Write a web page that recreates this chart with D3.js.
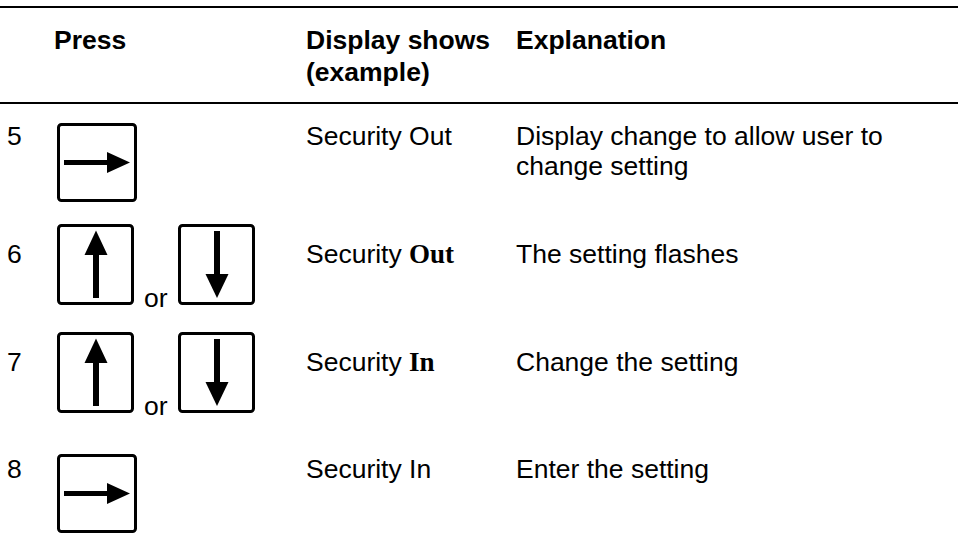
<!DOCTYPE html>
<html><head><meta charset="utf-8">
<script src="https://cdn.jsdelivr.net/npm/d3@7/dist/d3.min.js"></script>
<style>
html,body{margin:0;padding:0;background:#fff;}
svg{display:block;}
</style></head>
<body>
<div id="chart"></div>
<script>
// ---- data ----
const headers = [["Press"], ["Display shows", "(example)"], ["Explanation"]];
const steps = ["5", "6", "7", "8"];
const keys = [["right"], ["up", "down"], ["up", "down"], ["right"]];
const displayPlain = ["Security Out", "Security ", "Security ", "Security In"];
const displayBold = ["", "Out", "In", ""];
const explanations = [
  ["Display change to allow user to", "change setting"],
  ["The setting flashes"],
  ["Change the setting"],
  ["Enter the setting"]
];

// ---- layout ----
const W = 960, H = 538;
const FS = 26.5;
const sans = "Liberation Sans, Arial, Helvetica, sans-serif";
const serif = "Liberation Serif, Times New Roman, serif";
const colX = {num: 7, press: 54, display: 306, expl: 516};
const rowTextY = [145, 263, 371, 478];
const rowKeyTop = [123, 224, 332, 454];
const keyX = [57, 178];

const svg = d3.select("#chart").append("svg").attr("width", W).attr("height", H);

// rules
const rules = [7, 103];
svg.selectAll("line.rule").data(rules).join("line")
  .attr("x1", 0).attr("x2", 958).attr("y1", d => d).attr("y2", d => d)
  .attr("stroke", "#000").attr("stroke-width", 2.2);

// headers
const hx = [colX.press, colX.display, colX.expl];
headers.forEach((lines, i) => {
  const t = svg.append("text").attr("x", hx[i]).attr("y", 49)
    .attr("font-family", sans).attr("font-weight", "bold").attr("font-size", FS).attr("fill", "#000");
  lines.forEach((l, j) => t.append("tspan").attr("x", hx[i]).attr("dy", j ? 32 : 0).text(l));
});

// step numbers
svg.selectAll("text.num").data(steps).join("text")
  .attr("class", "num").attr("x", colX.num).attr("y", (d, i) => rowTextY[i])
  .attr("font-family", sans).attr("font-size", FS).attr("fill", "#000").text(d => d);

// display text
steps.forEach((s, i) => {
  const t = svg.append("text").attr("x", colX.display).attr("y", rowTextY[i])
    .attr("font-family", sans).attr("font-size", FS).attr("fill", "#000");
  t.append("tspan").text(displayPlain[i]);
  if (displayBold[i]) t.append("tspan").attr("font-family", serif).attr("font-weight", "bold")
    .attr("font-size", FS + 0.5).text(displayBold[i]);
});

// explanations
explanations.forEach((lines, i) => {
  const t = svg.append("text").attr("x", colX.expl).attr("y", rowTextY[i])
    .attr("font-family", sans).attr("font-size", FS).attr("fill", "#000");
  lines.forEach((l, j) => t.append("tspan").attr("x", colX.expl).attr("dy", j ? 30 : 0).text(l));
});

// keys
function drawKey(g, type) {
  if (type === "right") {
    const w = 80, h = 79;
    g.append("rect").attr("x", 1.5).attr("y", 1.5).attr("width", w - 3).attr("height", h - 3)
      .attr("rx", 3).attr("fill", "#fff").attr("stroke", "#000").attr("stroke-width", 3);
    const cy = h / 2;
    g.append("rect").attr("x", 7).attr("y", cy - 2.5).attr("width", 44).attr("height", 5).attr("fill", "#000");
    g.append("path").attr("d", `M50,${cy - 10.5}L73,${cy}L50,${cy + 10.5}Z`).attr("fill", "#000");
  } else {
    const w = 77, h = 81;
    g.append("rect").attr("x", 1.5).attr("y", 1.5).attr("width", w - 3).attr("height", h - 3)
      .attr("rx", 3).attr("fill", "#fff").attr("stroke", "#000").attr("stroke-width", 3);
    const cx = 39;
    if (type === "up") {
      g.append("path").attr("d", `M${cx},6.5L${cx + 11.5},31L${cx - 11.5},31Z`).attr("fill", "#000");
      g.append("rect").attr("x", cx - 3).attr("y", 30).attr("width", 6).attr("height", 44).attr("fill", "#000");
    } else {
      g.append("rect").attr("x", cx - 3).attr("y", 7).attr("width", 6).attr("height", 44).attr("fill", "#000");
      g.append("path").attr("d", `M${cx - 11.5},50L${cx + 11.5},50L${cx},74Z`).attr("fill", "#000");
    }
  }
}

keys.forEach((ks, i) => {
  ks.forEach((k, j) => {
    const g = svg.append("g").attr("transform", `translate(${keyX[j]},${rowKeyTop[i]})`);
    drawKey(g, k);
  });
  if (ks.length === 2) {
    svg.append("text").attr("x", 144).attr("y", rowKeyTop[i] + 83)
      .attr("font-family", sans).attr("font-size", FS).attr("fill", "#000").text("or");
  }
});
</script>
</body></html>
